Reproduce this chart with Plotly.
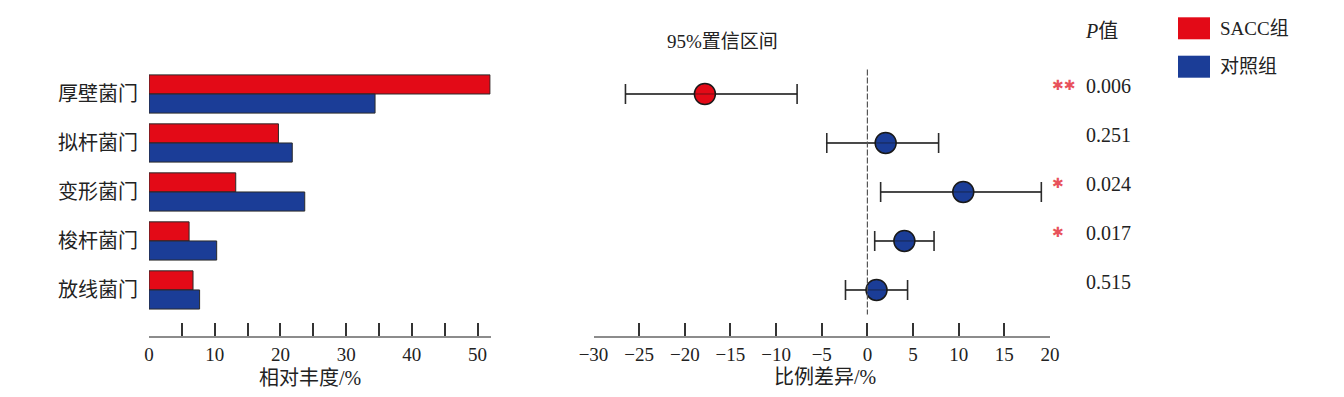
import plotly.graph_objects as go

# ---------------- data ----------------
categories = ["厚壁菌门", "拟杆菌门", "变形菌门", "梭杆菌门", "放线菌门"]
sacc_abund = [51.9, 19.7, 13.2, 6.1, 6.7]
ctrl_abund = [34.4, 21.8, 23.7, 10.3, 7.7]
diff_mean = [-17.8, 2.0, 10.5, 4.05, 1.0]
diff_low = [-26.5, -4.45, 1.45, 0.8, -2.4]
diff_high = [-7.7, 7.8, 19.05, 7.3, 4.4]
p_values = ["0.006", "0.251", "0.024", "0.017", "0.515"]
p_stars = ["✱✱", "", "✱", "✱", ""]
group_names = ["SACC组", "对照组"]

RED = "#e30a17"
BLUE = "#1b3d97"
STAR = "#e8525c"
FONT = "Liberation Serif, Noto Sans CJK SC, serif"
W, H = 1344, 397

ypos = list(range(len(categories)))
point_colors = [RED if d < 0 else BLUE for d in diff_mean]

fig = go.Figure()

fig.add_trace(go.Bar(
    y=ypos, x=sacc_abund, orientation="h", name=group_names[0],
    width=0.39, offset=-0.39,
    marker=dict(color=RED, line=dict(color="#2a2a2a", width=1)),
    xaxis="x", yaxis="y", showlegend=False,
))
fig.add_trace(go.Bar(
    y=ypos, x=ctrl_abund, orientation="h", name=group_names[1],
    width=0.39, offset=0.0,
    marker=dict(color=BLUE, line=dict(color="#2a2a2a", width=1)),
    xaxis="x", yaxis="y", showlegend=False,
))

fig.add_trace(go.Scatter(
    x=diff_mean, y=ypos, mode="markers",
    marker=dict(size=21, color=point_colors, line=dict(color="#1a1a1a", width=1.5)),
    error_x=dict(type="data", symmetric=False,
                 array=[h - m for h, m in zip(diff_high, diff_mean)],
                 arrayminus=[m - l for m, l in zip(diff_mean, diff_low)],
                 color="#2b2b2b", thickness=1.6, width=10),
    xaxis="x2", yaxis="y2", showlegend=False,
))
# thin CI line visible through markers
lx, ly = [], []
for l, h, y in zip(diff_low, diff_high, ypos):
    lx += [l, h, None]
    ly += [y, y, None]
fig.add_trace(go.Scatter(
    x=lx, y=ly, mode="lines", line=dict(color="rgba(20,20,20,0.55)", width=1),
    xaxis="x2", yaxis="y2", showlegend=False, hoverinfo="skip",
))

def px_x(p):
    return p / W

def px_y(p):
    return (H - p) / H

yr = [4.94, -1.0]
ydom = [px_y(336), px_y(45)]

fig.update_layout(
    template="none",
    width=W, height=H, autosize=False,
    margin=dict(l=0, r=0, t=0, b=0, pad=0),
    paper_bgcolor="white", plot_bgcolor="white",
    font=dict(family=FONT, size=18, color="#222222"),
    barmode="overlay",
    xaxis=dict(
        domain=[px_x(149), px_x(490.7)], range=[0, 52], automargin=False,
        showline=True, linecolor="#8c8c8c", linewidth=1.5,
        ticks="inside", ticklen=13, tickcolor="#333333", tickwidth=1.5,
        dtick=10, tick0=0,
        minor=dict(dtick=5, tick0=0, ticks="inside", ticklen=13,
                   tickcolor="#333333", tickwidth=1.5, showgrid=False),
        showgrid=False, zeroline=False, anchor="y",
        tickfont=dict(family=FONT, size=19, color="#222222"),
    ),
    yaxis=dict(
        domain=ydom, range=yr, tickvals=ypos, ticktext=categories, automargin=False,
        showline=False, showgrid=False, zeroline=False, ticks="",
        ticklabelstandoff=10, anchor="x",
        tickfont=dict(family=FONT, size=20, color="#222222"),
    ),
    xaxis2=dict(
        domain=[px_x(593.5), px_x(1050)], range=[-30, 20], automargin=False,
        showline=True, linecolor="#8c8c8c", linewidth=1.5,
        ticks="inside", ticklen=13, tickcolor="#333333", tickwidth=1.5,
        dtick=5, tick0=0,
        showgrid=False, zeroline=False, anchor="y2",
        tickfont=dict(family=FONT, size=19, color="#222222"),
    ),
    yaxis2=dict(
        domain=ydom, range=yr, showticklabels=False, automargin=False,
        showline=False, showgrid=False, zeroline=False, ticks="",
        anchor="x2",
    ),
)

# zero reference line
fig.add_shape(type="line", xref="x2", yref="y2", x0=0, x1=0, y0=-0.5, y1=4.5,
              line=dict(color="#555555", width=1.2, dash="6px,2px"))

def label(text, x, y, size=19, xanchor="center", **kw):
    d = dict(text=text, x=x, y=y, xref="paper", yref="paper", showarrow=False,
             xanchor=xanchor, yanchor="middle",
             font=dict(family=FONT, size=size, color="#222222"))
    d.update(kw)
    return d

ann = []
ann.append(label("95%置信区间", px_x(722), px_y(41), size=19))
ann.append(label("<i>P</i>值", px_x(1101.5), px_y(31), size=20))
for p, s, y in zip(p_values, p_stars, ypos):
    ann.append(dict(text=p, x=px_x(1084), y=y, xref="paper", yref="y2",
                    xanchor="left", yanchor="middle",
                    yshift=8, showarrow=False,
                    font=dict(family=FONT, size=20, color="#222222")))
    if s:
        ann.append(dict(text=s, x=px_x(1050), y=y, xref="paper", yref="y2",
                        xanchor="left", yanchor="middle",
                        yshift=9, showarrow=False,
                        font=dict(family="DejaVu Sans", size=14, color=STAR)))
ann.append(label("相对丰度/%", px_x(310), px_y(378), size=20))
ann.append(label("比例差异/%", px_x(825), px_y(377), size=20))

# legend
for name, col, top, bot in [(group_names[0], RED, 17.3, 39.3), (group_names[1], BLUE, 55.7, 77.7)]:
    fig.add_shape(type="rect", xref="paper", yref="paper",
                  x0=px_x(1178), x1=px_x(1210), y0=px_y(bot), y1=px_y(top),
                  fillcolor=col, line=dict(color=col, width=0))
    ann.append(label(name, px_x(1218), px_y((top + bot) / 2), size=19, xanchor="left"))

fig.update_layout(annotations=ann)

fig.write_html("out.html", config={"displayModeBar": False},
               post_script="document.body.style.margin='0';")
